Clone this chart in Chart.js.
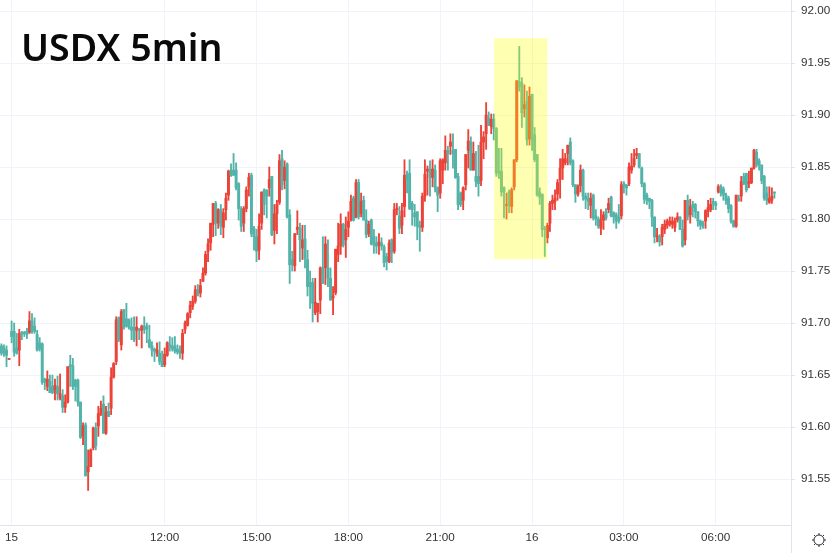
<!DOCTYPE html>
<html>
<head>
<meta charset="utf-8">
<title>USDX 5min</title>
<script src="https://cdn.jsdelivr.net/npm/chart.js@4"></script>
<style>
  html, body { margin: 0; padding: 0; background: #fff; overflow: hidden; }
  #wrap { position: relative; width: 830px; height: 553px; }
  #title { position: absolute; left: 21px; top: 21px; font: 600 37.6px "Noto Sans", sans-serif; color: #0a0a0a; white-space: nowrap; }
  #gear { position: absolute; left: 811px; top: 532px; }
</style>
</head>
<body>
<div id="wrap">
  <canvas id="chart" width="830" height="553"></canvas>
  <div id="title">USDX 5min</div>
  <svg id="gear" width="16" height="16" viewBox="0 0 16 16" fill="none" stroke="#2a2e39" stroke-width="1">
    <circle cx="8" cy="8" r="5"/>
    <path d="M8 1v2M8 13v2M1 8h2M13 8h2M3 3l1.4 1.4M11.6 11.6L13 13M3 13l1.4-1.4M11.6 4.4L13 3"/>
  </svg>
</div>
<script>
// 5 minute candles
var opens = [
  91.678,91.676,91.674,91.665,91.692,91.692,91.676,91.674,91.691,91.691,
  91.692,91.691,91.702,91.697,91.689,91.681,91.680,91.646,91.639,91.644,
  91.639,91.636,91.639,91.628,91.630,91.619,91.624,91.660,91.659,91.645,
  91.645,91.624,91.592,91.602,91.557,91.562,91.580,91.599,91.601,91.613,
  91.622,91.594,91.615,91.618,91.648,91.663,91.705,91.679,91.713,91.704,
  91.703,91.696,91.696,91.693,91.694,91.693,91.697,91.697,91.684,91.678,
  91.675,91.671,91.671,91.663,91.660,91.669,91.679,91.678,91.678,91.675,
  91.673,91.671,91.694,91.698,91.710,91.716,91.721,91.732,91.729,91.740,
  91.748,91.769,91.777,91.795,91.815,91.796,91.809,91.792,91.809,91.823,
  91.847,91.847,91.847,91.834,91.810,91.796,91.810,91.831,91.842,91.791,
  91.783,91.770,91.796,91.828,91.828,91.830,91.841,91.789,91.805,91.816,
  91.858,91.837,91.853,91.804,91.761,91.755,91.790,91.791,91.772,91.781,
  91.761,91.739,91.739,91.710,91.711,91.722,91.753,91.753,91.753,91.743,
  91.724,91.729,91.766,91.774,91.795,91.780,91.792,91.799,91.820,91.802,
  91.835,91.805,91.818,91.799,91.786,91.799,91.783,91.777,91.775,91.777,
  91.773,91.764,91.759,91.780,91.769,91.809,91.803,91.794,91.812,91.843,
  91.844,91.815,91.806,91.807,91.794,91.792,91.822,91.846,91.848,91.840,
  91.847,91.830,91.825,91.847,91.854,91.866,91.870,91.866,91.867,91.841,
  91.825,91.818,91.833,91.866,91.874,91.847,91.841,91.841,91.837,91.874,
  91.882,91.897,91.889,91.896,91.887,91.846,91.846,91.830,91.813,91.826,
  91.812,91.831,91.857,91.932,91.931,91.906,91.913,91.877,91.920,91.881,
  91.862,91.826,91.824,91.791,91.782,91.796,91.815,91.817,91.824,91.838,
  91.849,91.854,91.863,91.874,91.856,91.833,91.824,91.832,91.847,91.822,
  91.820,91.813,91.823,91.803,91.800,91.791,91.799,91.807,91.809,91.821,
  91.806,91.804,91.802,91.803,91.834,91.833,91.834,91.847,91.852,91.861,
  91.863,91.849,91.834,91.823,91.820,91.818,91.802,91.783,91.783,91.783,
  91.790,91.794,91.795,91.795,91.792,91.799,91.802,91.790,91.780,91.818,
  91.804,91.814,91.814,91.807,91.798,91.796,91.798,91.807,91.809,91.817,
  91.815,91.826,91.831,91.829,91.823,91.820,91.813,91.798,91.793,91.820,
  91.822,91.841,91.844,91.834,91.835,91.849,91.864,91.856,91.852,91.841,
  91.825,91.816,91.818,91.826
];
var highs = [
  91.680,91.679,91.678,91.666,91.702,91.700,91.690,91.694,91.692,91.692,
  91.695,91.711,91.709,91.705,91.693,91.686,91.681,91.647,91.654,91.650,
  91.650,91.646,91.649,91.651,91.636,91.631,91.658,91.669,91.666,91.646,
  91.646,91.624,91.604,91.604,91.578,91.579,91.600,91.604,91.620,91.625,
  91.630,91.620,91.623,91.657,91.662,91.706,91.706,91.713,91.713,91.719,
  91.704,91.705,91.706,91.706,91.695,91.698,91.706,91.700,91.698,91.682,
  91.676,91.681,91.682,91.673,91.676,91.682,91.687,91.686,91.687,91.679,
  91.678,91.694,91.702,91.710,91.721,91.726,91.736,91.737,91.742,91.753,
  91.769,91.781,91.796,91.815,91.817,91.810,91.814,91.810,91.825,91.847,
  91.853,91.863,91.854,91.835,91.812,91.812,91.831,91.844,91.844,91.793,
  91.790,91.805,91.826,91.829,91.828,91.850,91.841,91.814,91.818,91.862,
  91.866,91.856,91.854,91.809,91.769,91.786,91.808,91.796,91.794,91.794,
  91.770,91.750,91.743,91.743,91.719,91.754,91.783,91.783,91.780,91.753,
  91.735,91.771,91.796,91.805,91.796,91.802,91.807,91.823,91.822,91.838,
  91.838,91.825,91.822,91.809,91.798,91.800,91.790,91.783,91.786,91.782,
  91.775,91.767,91.780,91.781,91.815,91.815,91.812,91.815,91.857,91.846,
  91.857,91.817,91.814,91.807,91.798,91.825,91.857,91.851,91.856,91.857,
  91.852,91.831,91.858,91.858,91.880,91.870,91.882,91.882,91.867,91.844,
  91.826,91.831,91.862,91.886,91.879,91.874,91.865,91.871,91.890,91.884,
  91.912,91.903,91.901,91.901,91.888,91.868,91.868,91.831,91.825,91.828,
  91.830,91.857,91.933,91.966,91.936,91.929,91.923,91.927,91.920,91.888,
  91.862,91.830,91.824,91.793,91.796,91.817,91.823,91.828,91.838,91.858,
  91.867,91.863,91.871,91.878,91.857,91.833,91.833,91.852,91.848,91.825,
  91.825,91.825,91.824,91.809,91.802,91.809,91.807,91.810,91.820,91.822,
  91.807,91.806,91.814,91.836,91.836,91.833,91.854,91.863,91.867,91.868,
  91.863,91.850,91.835,91.825,91.820,91.819,91.802,91.791,91.785,91.795,
  91.799,91.800,91.802,91.802,91.801,91.806,91.802,91.799,91.818,91.823,
  91.819,91.817,91.815,91.807,91.799,91.798,91.809,91.818,91.820,91.820,
  91.817,91.833,91.833,91.831,91.825,91.822,91.814,91.799,91.823,91.823,
  91.841,91.844,91.844,91.846,91.849,91.867,91.867,91.858,91.852,91.842,
  91.831,91.831,91.830,91.826
];
var lows = [
  91.669,91.668,91.658,91.665,91.681,91.668,91.670,91.659,91.684,91.687,
  91.685,91.690,91.690,91.690,91.673,91.673,91.641,91.636,91.635,91.633,
  91.632,91.626,91.626,91.626,91.614,91.614,91.623,91.639,91.636,91.625,
  91.620,91.589,91.583,91.553,91.539,91.562,91.578,91.578,91.591,91.611,
  91.594,91.593,91.610,91.612,91.647,91.660,91.682,91.674,91.694,91.696,
  91.694,91.684,91.682,91.678,91.684,91.676,91.690,91.681,91.676,91.668,
  91.663,91.668,91.660,91.658,91.658,91.668,91.673,91.673,91.671,91.670,
  91.666,91.665,91.690,91.697,91.705,91.713,91.719,91.726,91.725,91.740,
  91.746,91.759,91.770,91.783,91.784,91.791,91.785,91.782,91.799,91.818,
  91.841,91.842,91.828,91.799,91.788,91.788,91.807,91.822,91.783,91.770,
  91.759,91.761,91.790,91.804,91.801,91.822,91.784,91.776,91.786,91.814,
  91.828,91.829,91.801,91.738,91.750,91.750,91.785,91.759,91.761,91.753,
  91.726,91.714,91.701,91.708,91.701,91.709,91.738,91.737,91.735,91.722,
  91.708,91.727,91.759,91.766,91.773,91.763,91.783,91.798,91.798,91.801,
  91.800,91.802,91.799,91.782,91.783,91.775,91.767,91.767,91.766,91.770,
  91.754,91.751,91.758,91.758,91.767,91.804,91.786,91.786,91.802,91.825,
  91.809,91.794,91.793,91.780,91.769,91.788,91.817,91.823,91.822,91.831,
  91.826,91.807,91.820,91.834,91.847,91.847,91.862,91.849,91.839,91.809,
  91.812,91.809,91.828,91.849,91.847,91.847,91.831,91.822,91.832,91.858,
  91.867,91.890,91.882,91.876,91.841,91.839,91.822,91.801,91.800,91.806,
  91.806,91.828,91.855,91.923,91.888,91.898,91.871,91.871,91.866,91.855,
  91.822,91.814,91.783,91.764,91.777,91.788,91.809,91.809,91.818,91.820,
  91.838,91.852,91.852,91.852,91.831,91.816,91.822,91.826,91.818,91.810,
  91.809,91.801,91.799,91.794,91.791,91.785,91.790,91.799,91.806,91.802,
  91.796,91.791,91.796,91.800,91.825,91.823,91.832,91.844,91.850,91.858,
  91.849,91.831,91.815,91.814,91.810,91.793,91.777,91.778,91.774,91.775,
  91.786,91.791,91.793,91.791,91.788,91.797,91.790,91.773,91.775,91.799,
  91.796,91.802,91.801,91.793,91.790,91.791,91.791,91.802,91.807,91.809,
  91.809,91.825,91.822,91.818,91.814,91.806,91.796,91.792,91.792,91.817,
  91.817,91.833,91.826,91.830,91.834,91.848,91.850,91.847,91.834,91.818,
  91.814,91.815,91.815,91.820
];
var closes = [
  91.671,91.671,91.669,91.666,91.687,91.672,91.671,91.690,91.689,91.690,
  91.689,91.702,91.692,91.692,91.674,91.675,91.643,91.643,91.646,91.633,
  91.633,91.640,91.632,91.632,91.619,91.624,91.658,91.658,91.639,91.639,
  91.624,91.590,91.601,91.553,91.562,91.578,91.599,91.582,91.613,91.618,
  91.594,91.614,91.610,91.648,91.661,91.703,91.684,91.711,91.696,91.697,
  91.696,91.693,91.684,91.696,91.693,91.697,91.694,91.694,91.677,91.674,
  91.673,91.674,91.663,91.658,91.670,91.681,91.677,91.675,91.673,91.672,
  91.671,91.690,91.700,91.709,91.717,91.721,91.732,91.728,91.736,91.748,
  91.766,91.776,91.796,91.815,91.796,91.809,91.793,91.806,91.820,91.846,
  91.842,91.842,91.830,91.810,91.793,91.810,91.828,91.840,91.786,91.783,
  91.769,91.793,91.826,91.814,91.822,91.838,91.785,91.805,91.814,91.856,
  91.833,91.850,91.802,91.756,91.756,91.786,91.792,91.780,91.780,91.762,
  91.735,91.735,91.719,91.720,91.719,91.753,91.738,91.776,91.743,91.722,
  91.726,91.771,91.774,91.795,91.775,91.790,91.798,91.817,91.799,91.835,
  91.802,91.817,91.799,91.785,91.795,91.776,91.775,91.774,91.778,91.774,
  91.758,91.759,91.777,91.768,91.809,91.810,91.791,91.808,91.842,91.838,
  91.810,91.809,91.802,91.793,91.792,91.822,91.843,91.848,91.840,91.848,
  91.830,91.823,91.856,91.857,91.866,91.863,91.874,91.863,91.840,91.814,
  91.814,91.830,91.862,91.875,91.847,91.863,91.836,91.834,91.874,91.879,
  91.900,91.890,91.896,91.887,91.844,91.844,91.826,91.826,91.814,91.813,
  91.828,91.857,91.933,91.927,91.902,91.910,91.876,91.918,91.876,91.857,
  91.823,91.821,91.790,91.790,91.794,91.815,91.818,91.820,91.835,91.849,
  91.858,91.858,91.871,91.854,91.833,91.824,91.831,91.847,91.822,91.819,
  91.817,91.820,91.801,91.800,91.793,91.799,91.804,91.801,91.815,91.803,
  91.802,91.798,91.798,91.833,91.832,91.830,91.850,91.851,91.858,91.863,
  91.850,91.834,91.819,91.818,91.817,91.802,91.783,91.784,91.778,91.792,
  91.795,91.798,91.798,91.798,91.798,91.802,91.790,91.774,91.818,91.802,
  91.812,91.811,91.807,91.798,91.794,91.793,91.808,91.811,91.814,91.815,
  91.813,91.831,91.825,91.823,91.818,91.810,91.798,91.793,91.823,91.818,
  91.836,91.834,91.828,91.836,91.849,91.866,91.852,91.852,91.837,91.820,
  91.818,91.820,91.822,91.825
];

// axis labels
var priceTicks = [92.00, 91.95, 91.90, 91.85, 91.80, 91.75, 91.70, 91.65, 91.60, 91.55];
var timeTickIndex = [4, 64, 100, 136, 172, 208, 244, 280];
var timeTickLabels = ['15', '12:00', '15:00', '18:00', '21:00', '16', '03:00', '06:00'];

// yellow box around the spike
var highlightIndex = [193.1, 214];
var highlightPrice = [91.974, 91.7615];

var upColor = '#ec4237';
var downColor = '#53b3a9';
var wickData = [];
var bodyData = [];
var candleColors = [];
for (var i = 0; i < opens.length; i++) {
  wickData.push({ x: i, y: [lows[i], highs[i]] });
  bodyData.push({ x: i, y: [opens[i], closes[i]] });
  candleColors.push(closes[i] >= opens[i] ? upColor : downColor);
}

var overlayPlugin = {
  id: 'overlay',
  afterDatasetsDraw: function (chart) {
    var c = chart.ctx, sx = chart.scales.x, sy = chart.scales.y;
    var left = sx.getPixelForValue(highlightIndex[0]);
    var right = sx.getPixelForValue(highlightIndex[1]);
    var top = sy.getPixelForValue(highlightPrice[0]);
    var bottom = sy.getPixelForValue(highlightPrice[1]);
    c.save();
    c.fillStyle = 'rgba(255,255,0,0.3)';
    c.fillRect(left, top, right - left, bottom - top);
    // price axis line runs on down to the corner
    c.strokeStyle = '#e0e3eb';
    c.beginPath();
    c.moveTo(chart.chartArea.right + 0.5, chart.chartArea.bottom);
    c.lineTo(chart.chartArea.right + 0.5, chart.height);
    c.stroke();
    c.restore();
  }
};

var ctx = document.getElementById('chart').getContext('2d');
new Chart(ctx, {
  type: 'bar',
  data: {
    datasets: [
      { data: wickData, backgroundColor: candleColors, barThickness: 1.2, grouped: false, order: 2 },
      { data: bodyData, backgroundColor: candleColors, barThickness: 2.3, minBarLength: 1, grouped: false, order: 1 }
    ]
  },
  options: {
    responsive: false,
    animation: false,
    layout: { padding: 0 },
    plugins: { legend: { display: false }, tooltip: { enabled: false } },
    scales: {
      x: {
        type: 'linear',
        offset: false,
        min: -0.55,
        max: 309.5,
        afterBuildTicks: function (axis) {
          axis.ticks = timeTickIndex.map(function (v) { return { value: v }; });
        },
        afterFit: function (axis) {
          axis.height = 28;
          axis.paddingLeft = 0;
          axis.paddingRight = 0;
        },
        grid: { color: '#f0f3fa', offset: false, drawTicks: false },
        border: { color: '#e0e3eb' },
        ticks: {
          autoSkip: false,
          maxRotation: 0,
          padding: 6,
          color: '#333',
          font: { family: '"Liberation Sans", sans-serif', size: 11.7 },
          callback: function (value) { return timeTickLabels[timeTickIndex.indexOf(value)]; }
        }
      },
      y: {
        position: 'right',
        min: 91.5058,
        max: 92.0106,
        afterBuildTicks: function (axis) {
          axis.ticks = priceTicks.map(function (v) { return { value: v }; });
        },
        afterFit: function (axis) {
          axis.width = 39;
          axis.paddingTop = 0;
          axis.paddingBottom = 0;
        },
        grid: { color: '#f0f3fa', tickColor: '#e0e3eb', tickLength: 4 },
        border: { color: '#e0e3eb' },
        ticks: {
          padding: 6,
          color: '#333',
          font: { family: '"Liberation Sans", sans-serif', size: 11.7 },
          callback: function (value) { return value.toFixed(2); }
        }
      }
    }
  },
  plugins: [overlayPlugin]
});
</script>
</body>
</html>
